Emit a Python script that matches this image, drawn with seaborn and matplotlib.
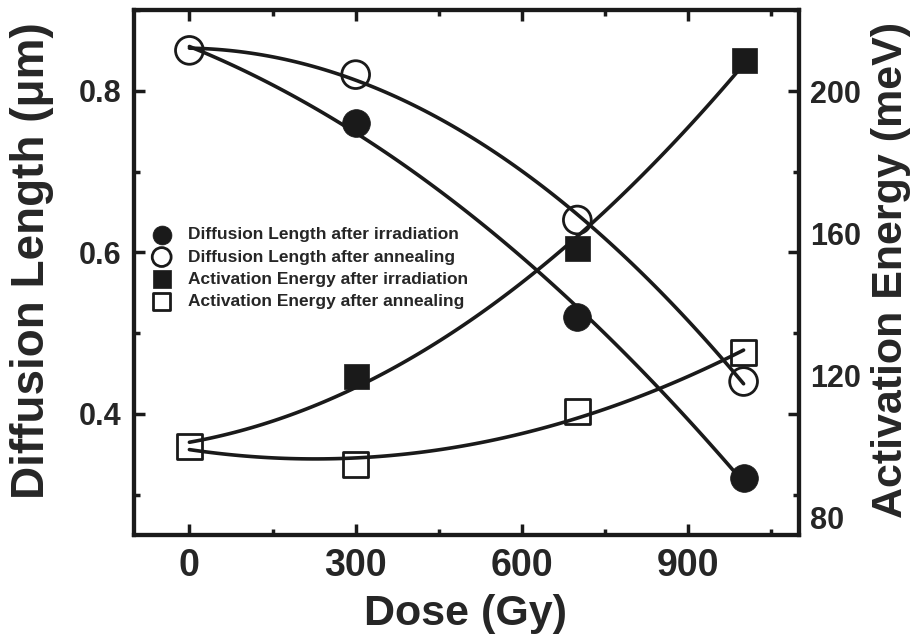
import numpy as np
import matplotlib
matplotlib.use("Agg")
import matplotlib.pyplot as plt
import seaborn as sns
from matplotlib import font_manager
from matplotlib.ticker import MultipleLocator

# ---------------- data ----------------
dose_ann = [0, 300, 700, 1000]
dl_ann = [0.85, 0.82, 0.64, 0.44]          # diffusion length after annealing (um)
dose_irr = [300, 700, 1000]
dl_irr = [0.76, 0.52, 0.32]                # diffusion length after irradiation (um)
ae_ann = [100, 95, 110, 126.5]             # activation energy after annealing (meV)
ae_irr = [120, 156, 209]                   # activation energy after irradiation (meV)

x_ticks = [0, 300, 600, 900]
dl_ticks = [0.4, 0.6, 0.8]
ae_ticks = [80, 120, 160, 200]

legend_labels = [
    "Diffusion Length after irradiation",
    "Diffusion Length after annealing",
    "Activation Energy after irradiation",
    "Activation Energy after annealing",
]

# ---------------- style ----------------
sns.set_theme(style="ticks")
avail = {f.name for f in font_manager.fontManager.ttflist}
base = "Liberation Sans" if "Liberation Sans" in avail else "DejaVu Sans"
narrow = "Liberation Sans Narrow" if "Liberation Sans Narrow" in avail else base
plt.rcParams["font.family"] = [base, "DejaVu Sans"]
plt.rcParams["font.weight"] = "bold"
plt.rcParams["axes.labelweight"] = "bold"

fig = plt.figure(figsize=(9.23, 6.38), dpi=100)
ax = fig.add_axes([134 / 923, 1 - 535 / 638, 665 / 923, 525 / 638])
ax2 = ax.twinx()

lw_fit = 2.6
# polynomial fits through the data (irradiation series starts from the shared 0-dose value)
sns.regplot(x=np.r_[dose_ann[0], dose_irr], y=np.r_[dl_ann[0], dl_irr], order=2, ci=None,
            scatter=False, truncate=True, ax=ax, line_kws=dict(color="k", lw=lw_fit, zorder=4))
sns.regplot(x=np.array(dose_ann), y=np.array(dl_ann), order=2, ci=None,
            scatter=False, truncate=True, ax=ax, line_kws=dict(color="k", lw=lw_fit, zorder=4))
sns.regplot(x=np.r_[dose_ann[0], dose_irr], y=np.r_[ae_ann[0], ae_irr], order=2, ci=None,
            scatter=False, truncate=True, ax=ax2, line_kws=dict(color="k", lw=lw_fit, zorder=4))
sns.regplot(x=np.array(dose_ann), y=np.array(ae_ann), order=2, ci=None,
            scatter=False, truncate=True, ax=ax2, line_kws=dict(color="k", lw=lw_fit, zorder=4))

ms_c = 20 ** 2
ms_s = 18 ** 2
sns.scatterplot(x=dose_irr, y=dl_irr, ax=ax, marker="o", s=ms_c, color="k",
                edgecolor="k", linewidth=0.5, label=legend_labels[0], zorder=3)
sns.scatterplot(x=dose_ann, y=dl_ann, ax=ax, marker="o", s=ms_c, facecolors="none",
                edgecolor="k", linewidth=2.0, label=legend_labels[1], zorder=3)
sns.scatterplot(x=dose_irr, y=ae_irr, ax=ax2, marker="s", s=ms_s, color="k",
                edgecolor="k", linewidth=0.5, label=legend_labels[2], zorder=3)
sns.scatterplot(x=dose_ann, y=ae_ann, ax=ax2, marker="s", s=ms_s, facecolors="none",
                edgecolor="k", linewidth=2.0, label=legend_labels[3], zorder=3)

for a in (ax, ax2):
    if a.get_legend() is not None:
        a.get_legend().remove()

# ---------------- axes ----------------
ax.set_xlim(-100, 1100)
ax.set_ylim(0.25, 0.9)
ax2.set_ylim(75.2, 223)
ax.set_xticks(x_ticks)
ax.xaxis.set_minor_locator(MultipleLocator(150))
ax.set_yticks(dl_ticks)
ax.yaxis.set_minor_locator(MultipleLocator(0.1))
ax2.set_yticks(ae_ticks)
ax2.yaxis.set_minor_locator(matplotlib.ticker.NullLocator())

ax.tick_params(which="both", direction="in", top=True, right=True, width=2.5, color="k")
ax.tick_params(which="major", length=8)
ax.tick_params(which="minor", length=4)
ax.tick_params(axis="x", which="major", pad=9, labelsize=27, labelfontfamily=narrow)
ax.tick_params(axis="y", which="major", pad=9, labelsize=22)
ax2.tick_params(axis="y", which="both", length=0, pad=8, labelsize=22)

for a in (ax, ax2):
    for sp in a.spines.values():
        sp.set_linewidth(3)
        sp.set_color("k")

ax.set_xlabel("Dose (Gy)", fontsize=31, fontfamily=narrow)
ax.set_ylabel("Diffusion Length (\u03bcm)", fontsize=33)
ax2.set_ylabel("Activation Energy (meV)", fontsize=31)
ax.xaxis.set_label_coords(0.498, -0.112)
ax.yaxis.set_label_coords(-0.12, 0.522)
ax2.yaxis.set_label_coords(1.109, 0.505)

# ---------------- legend ----------------
h1, l1 = ax.get_legend_handles_labels()
h2, l2 = ax2.get_legend_handles_labels()
leg = ax2.legend(h1 + h2, l1 + l2, loc="upper left",
                 bbox_to_anchor=((153 - 134) / 665, (535 - 227) / 525),
                 frameon=False, borderpad=0, borderaxespad=0, handlelength=1.0,
                 handletextpad=1.0, labelspacing=0.42, markerscale=0.68,
                 prop=dict(size=12.5, weight="bold", family=base))

fig.savefig("out.png", dpi=100)
